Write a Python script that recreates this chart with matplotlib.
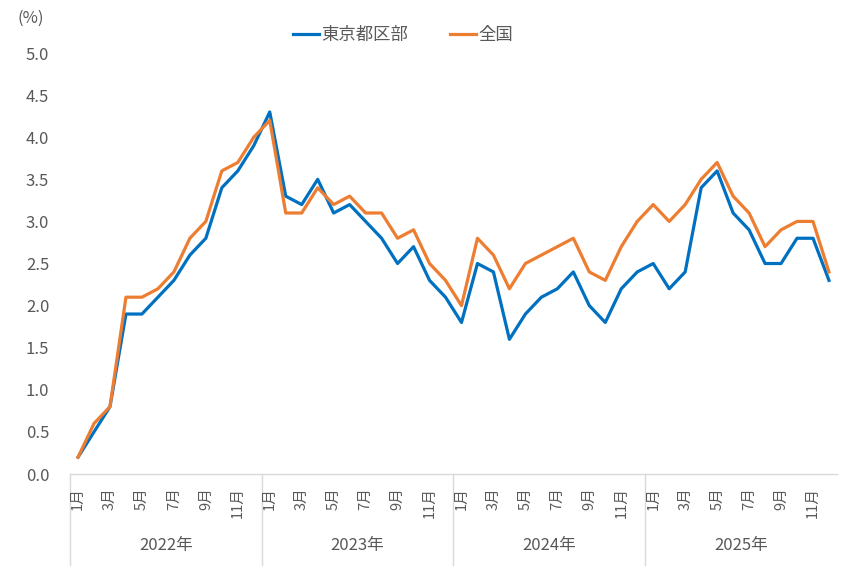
import numpy as np
import matplotlib.pyplot as plt
from matplotlib.lines import Line2D

plt.rcParams['font.family'] = ['Noto Sans CJK JP', 'DejaVu Sans']

years = ["2022年", "2023年", "2024年", "2025年"]
months = ["1月", "3月", "5月", "7月", "9月", "11月"]

tokyo = [0.2, 0.5, 0.8, 1.9, 1.9, 2.1, 2.3, 2.6, 2.8, 3.4, 3.6, 3.9,
         4.3, 3.3, 3.2, 3.5, 3.1, 3.2, 3.0, 2.8, 2.5, 2.7, 2.3, 2.1,
         1.8, 2.5, 2.4, 1.6, 1.9, 2.1, 2.2, 2.4, 2.0, 1.8, 2.2, 2.4,
         2.5, 2.2, 2.4, 3.4, 3.6, 3.1, 2.9, 2.5, 2.5, 2.8, 2.8, 2.3]
zenkoku = [0.2, 0.6, 0.8, 2.1, 2.1, 2.2, 2.4, 2.8, 3.0, 3.6, 3.7, 4.0,
           4.2, 3.1, 3.1, 3.4, 3.2, 3.3, 3.1, 3.1, 2.8, 2.9, 2.5, 2.3,
           2.0, 2.8, 2.6, 2.2, 2.5, 2.6, 2.7, 2.8, 2.4, 2.3, 2.7, 3.0,
           3.2, 3.0, 3.2, 3.5, 3.7, 3.3, 3.1, 2.7, 2.9, 3.0, 3.0, 2.4]

x = np.arange(len(tokyo))
txt = "#595959"
grid = "#d9d9d9"

fig = plt.figure(figsize=(8.51, 5.72), dpi=100)
ax = fig.add_axes([0.0823, 0.1713, 0.9012, 0.736])

ax.plot(x, tokyo, color="#0070C0", lw=2.3, label="東京都区部", solid_joinstyle="round")
ax.plot(x, zenkoku, color="#ED7D31", lw=2.3, label="全国", solid_joinstyle="round")

ax.set_xlim(-0.5, len(x) - 0.5)
ax.set_ylim(0, 5.0)
ax.set_yticks(np.arange(0, 5.01, 0.5))
ax.set_yticklabels([f"{v:.1f}" for v in np.arange(0, 5.01, 0.5)])
ax.tick_params(axis="y", length=0, pad=15, labelsize=12, labelcolor=txt)
ax.set_xticks([])
for s in ["top", "right", "left"]:
    ax.spines[s].set_visible(False)
ax.spines["bottom"].set_color(grid)
ax.spines["bottom"].set_linewidth(1.0)

# two-level category axis
trans = ax.get_xaxis_transform()
for yi, year in enumerate(years):
    for mi, m in enumerate(months):
        xi = yi * 12 + mi * 2
        ax.text(xi, -0.032, m, transform=trans, rotation=90, ha="center", va="top",
                fontsize=10.5, color=txt)
    ax.text(yi * 12 + 5.5, -0.17, year, transform=trans, ha="center", va="center",
            fontsize=12, color=txt)
    ax.add_line(Line2D([yi * 12 - 0.5, yi * 12 - 0.5], [0, -0.216], transform=trans,
                       color=grid, lw=1.0, clip_on=False))

fig.text(0.02, 0.968, "(%)", fontsize=12, color=txt, ha="left", va="center")

leg = fig.legend(loc="center", bbox_to_anchor=(0.4736, 0.939), ncol=2, frameon=False,
                 fontsize=12.5, handlelength=1.5, columnspacing=2.4, handletextpad=0.15)
for t in leg.get_texts():
    t.set_color(txt)

fig.savefig("out.png", dpi=100)
